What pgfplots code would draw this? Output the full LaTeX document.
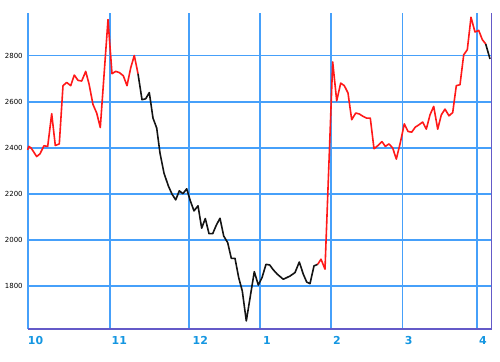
\documentclass[border=0pt]{standalone}
\usepackage{fontspec}
\setmainfont{DejaVu Sans}
\usepackage{pgfplots}
\pgfplotsset{compat=1.18}
\definecolor{gridblue}{RGB}{70,160,250}
\definecolor{axispurple}{RGB}{100,90,200}
\definecolor{monthblue}{RGB}{20,150,225}
\definecolor{linered}{RGB}{255,25,25}
\definecolor{lineblack}{RGB}{20,20,20}
\begin{document}
\begin{tikzpicture}
\useasboundingbox (-27.7bp,-33bp) rectangle (472.3bp,329bp);
\begin{axis}[
  at={(0,0)}, anchor=south west,
  scale only axis, width=464bp, height=316bp,
  xmin=27.7, xmax=491.7, ymin=1613, ymax=2985.6,
  clip=false,
  axis line style={draw=none},
  major tick length=0pt,
  xtick={110,189,260,331,402.3,477},
  xticklabels={},
  xmajorgrids, ymajorgrids,
  major grid style={draw=gridblue, line width=1.5bp},
  ytick={1800,2000,2200,2400,2600,2800},
  /pgf/number format/assume math mode=true,
  /pgf/number format/set thousands separator={},
  yticklabel style={font=\fontsize{7}{8}\selectfont, text=black, xshift=-1.5bp},
  extra x ticks={35.5,119.3,200.3,267,337,408.7,483},
  extra x tick labels={10,11,12,1,2,3,4},
  extra x tick style={grid=none, xticklabel style={font=\fontsize{11}{13}\selectfont\bfseries, text=monthblue, yshift=-4bp}},
]
\draw[gridblue, line width=1.6bp] ([xshift=0.5bp]rel axis cs:0,0) -- ([xshift=0.5bp]rel axis cs:0,1);
\addplot[linered, line width=1.6bp, line join=round] coordinates {
(27.7,2391) (28.7,2406) (31,2400) (36.7,2362) (40,2374) (44,2409) (47.7,2406)
(51.7,2548) (55.3,2410) (59.3,2417) (63,2670) (66.7,2684) (70.7,2670) (74.3,2716)
(78,2693) (81.7,2690) (85.7,2732) (89,2678) (93,2588) (96.7,2551) (100.3,2488)
(108,2957) (112,2722) (115.7,2732) (119.3,2727) (123.3,2713) (127,2670)
(130.7,2747) (134.3,2801) (138,2722)
};
\addplot[lineblack, line width=1.6bp, line join=round] coordinates {
(138,2722) (142,2609) (145.7,2613) (149.3,2640) (153,2529) (156.7,2486) (160,2377)
(164,2290) (168.3,2235) (172,2199) (175.7,2174) (179.3,2213) (183,2201) (186.7,2222)
(190.3,2170) (194,2126) (198,2148) (201.7,2051) (205.3,2093) (209,2027) (212.7,2027)
(216.3,2064) (220,2094) (223.7,2017) (227.7,1988) (231.3,1920) (235,1920)
(238.7,1836) (242.3,1778) (246.3,1648) (254.3,1862) (258.3,1804) (262,1836)
(266,1894) (269.7,1891) (273.3,1870) (277.3,1851) (283.3,1829) (290,1843)
(295,1858) (299.3,1904) (303.3,1851) (306.7,1817) (310,1810) (314,1887) (317.7,1894)
};
\addplot[linered, line width=1.6bp, line join=round] coordinates {
(317.7,1894) (321,1916) (325,1873) (332.7,2773) (336.7,2604) (340.7,2681)
(344.3,2670) (348,2638) (351.7,2522) (355.7,2551) (359.3,2547) (363.3,2536)
(366.7,2529) (370.3,2529) (374,2396) (378,2410) (382,2427) (385.3,2406) (389,2417)
(392.7,2399) (396.3,2351) (400.3,2422) (404.3,2504) (408,2471) (411.7,2468)
(415.3,2490) (419,2500) (422.7,2512) (426.3,2481) (430,2543) (433.7,2580)
(437.7,2481) (441.3,2543) (445,2568) (449,2539) (452.7,2553) (456.3,2670)
(460,2674) (463.7,2804) (467.3,2826) (471,2967) (475,2903) (478.7,2910)
(482.3,2870) (485.7,2851)
};
\addplot[lineblack, line width=1.6bp, line join=round] coordinates {
(485.7,2851) (490,2786)
};
\draw[axispurple, line width=1.5bp] (rel axis cs:0,0) -- (rel axis cs:1,0) -- (rel axis cs:1,1);
\end{axis}
\end{tikzpicture}
\end{document}
